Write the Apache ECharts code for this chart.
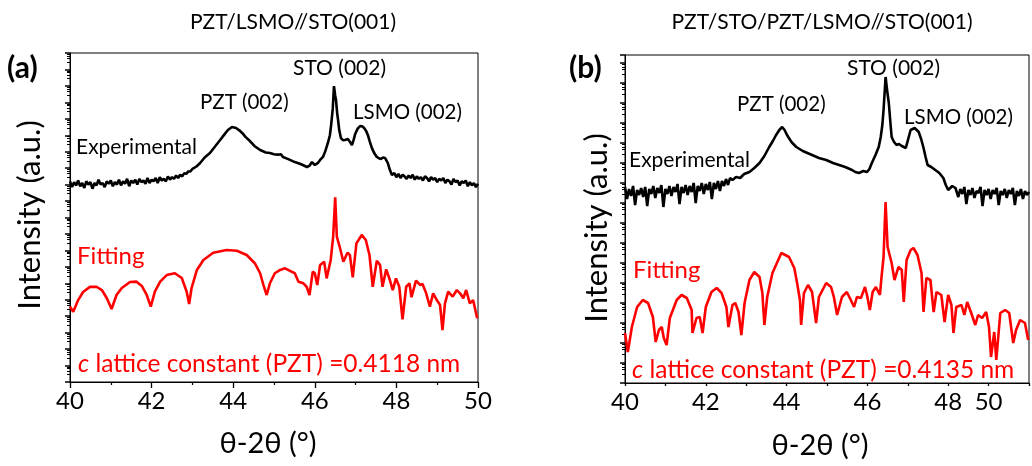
<!DOCTYPE html>
<html><head><meta charset="utf-8">
<script src="https://cdn.jsdelivr.net/npm/echarts@6/dist/echarts.min.js"></script>
<style>html,body{margin:0;padding:0;background:#fff}#c{width:1032px;height:466px}</style>
</head><body><div id="c"></div>
<script>
// values: [2theta (deg), log10 intensity (a.u.)]
const expA = [[40.00,12.20],[40.05,11.85],[40.10,12.15],[40.15,11.95],[40.20,12.25],[40.25,11.90],[40.30,12.10],[40.35,11.80],[40.40,12.20],[40.45,12.00],[40.50,12.15],[40.55,11.75],[40.60,12.10],[40.65,11.95],[40.70,12.30],[40.75,12.00],[40.80,12.10],[40.85,11.85],[40.90,12.20],[40.95,12.05],[41.00,12.25],[41.05,11.90],[41.10,12.15],[41.15,12.00],[41.20,12.30],[41.25,11.95],[41.30,12.20],[41.35,12.05],[41.40,12.35],[41.45,11.90],[41.50,12.25],[41.55,12.10],[41.60,12.30],[41.65,12.00],[41.70,12.35],[41.75,12.15],[41.80,12.25],[41.85,12.05],[41.90,12.40],[41.95,12.10],[42.00,12.30],[42.05,12.20],[42.10,12.40],[42.15,12.10],[42.20,12.45],[42.25,12.25],[42.30,12.35],[42.35,12.20],[42.40,12.50],[42.45,12.30],[42.50,12.45],[42.55,12.35],[42.60,12.55],[42.65,12.40],[42.70,12.60],[42.75,12.50],[42.80,12.70],[42.85,12.65],[42.90,12.80],[42.95,12.80],[43.00,12.95],[43.10,13.10],[43.19,13.31],[43.30,13.65],[43.43,13.92],[43.55,14.30],[43.68,14.71],[43.80,15.10],[43.87,15.32],[43.97,15.50],[44.07,15.44],[44.15,15.30],[44.22,15.14],[44.30,14.90],[44.41,14.65],[44.52,14.35],[44.66,14.10],[44.80,13.95],[44.90,13.92],[45.00,13.85],[45.10,13.82],[45.17,13.85],[45.22,13.68],[45.35,13.55],[45.51,13.37],[45.65,13.25],[45.81,13.07],[45.87,13.15],[45.93,13.37],[46.00,13.19],[46.07,13.30],[46.13,13.50],[46.20,13.68],[46.26,14.05],[46.32,14.53],[46.37,15.00],[46.40,15.62],[46.44,16.60],[46.47,17.99],[46.50,17.40],[46.52,17.14],[46.55,16.30],[46.57,15.93],[46.60,15.30],[46.64,14.83],[46.69,14.70],[46.74,14.71],[46.78,14.80],[46.81,14.77],[46.86,14.60],[46.91,14.41],[46.95,14.70],[46.99,15.08],[47.05,15.40],[47.11,15.56],[47.16,15.55],[47.21,15.44],[47.26,15.25],[47.30,15.02],[47.35,14.60],[47.40,14.22],[47.46,13.90],[47.52,13.68],[47.57,13.60],[47.62,13.56],[47.67,13.65],[47.72,13.62],[47.76,13.45],[47.79,13.31],[47.84,12.90],[47.89,12.58],[47.95,12.70],[48.00,12.45],[48.05,12.65],[48.10,12.40],[48.15,12.60],[48.20,12.50],[48.25,12.35],[48.30,12.55],[48.35,12.40],[48.40,12.60],[48.45,12.30],[48.50,12.50],[48.55,12.35],[48.60,12.45],[48.65,12.25],[48.70,12.50],[48.75,12.40],[48.80,12.20],[48.85,12.45],[48.90,12.30],[48.95,12.40],[49.00,12.15],[49.05,12.35],[49.10,12.25],[49.15,12.40],[49.20,12.10],[49.25,12.30],[49.30,12.20],[49.35,12.00],[49.40,12.35],[49.45,12.15],[49.50,12.25],[49.55,11.95],[49.60,12.20],[49.65,12.10],[49.70,12.25],[49.75,11.90],[49.80,12.15],[49.85,11.95],[49.90,12.10],[49.95,11.85],[50.00,12.05]];

const fitA = [[40.00,4.58],[40.08,4.27],[40.20,4.98],[40.32,5.47],[40.49,5.78],[40.65,5.79],[40.78,5.59],[40.90,5.11],[41.02,4.44],[41.14,5.29],[41.27,5.71],[41.47,6.08],[41.63,6.10],[41.76,5.84],[41.88,5.29],[41.98,4.58],[42.08,5.49],[42.21,6.10],[42.37,6.50],[42.57,6.61],[42.74,6.32],[42.86,5.49],[42.92,4.74],[42.98,5.71],[43.11,6.81],[43.27,7.42],[43.51,7.86],[43.84,8.02],[44.09,7.98],[44.33,7.72],[44.53,7.22],[44.66,6.61],[44.74,5.90],[44.82,5.29],[44.90,6.00],[45.02,6.61],[45.15,6.81],[45.27,6.91],[45.43,6.71],[45.51,6.61],[45.60,6.10],[45.72,6.00],[45.80,5.79],[45.87,5.29],[45.95,6.71],[46.00,6.61],[46.06,5.90],[46.13,7.11],[46.23,7.31],[46.29,6.30],[46.39,7.42],[46.45,8.83],[46.50,11.23],[46.54,8.83],[46.62,8.13],[46.70,7.31],[46.80,7.86],[46.86,7.72],[46.93,6.36],[47.02,8.43],[47.15,8.94],[47.25,8.63],[47.34,7.72],[47.42,5.79],[47.52,7.37],[47.60,7.11],[47.66,5.79],[47.75,6.85],[47.84,6.20],[47.91,5.59],[47.99,6.30],[48.07,5.79],[48.15,3.81],[48.24,5.79],[48.32,6.00],[48.37,5.15],[48.48,6.16],[48.58,5.90],[48.64,5.96],[48.73,5.39],[48.82,4.58],[48.90,5.39],[48.99,4.98],[49.07,4.68],[49.13,3.16],[49.19,4.78],[49.27,5.49],[49.38,5.19],[49.48,5.59],[49.56,5.39],[49.64,5.09],[49.71,5.59],[49.80,4.78],[49.88,4.98],[49.98,3.87]];

const expB = [[40.00,9.80],[40.05,9.20],[40.10,9.70],[40.15,9.35],[40.20,9.85],[40.25,8.90],[40.30,9.65],[40.35,9.40],[40.40,9.75],[40.45,9.30],[40.50,9.80],[40.55,8.85],[40.60,9.70],[40.65,9.45],[40.70,9.85],[40.75,9.25],[40.80,9.75],[40.85,9.50],[40.90,9.90],[40.95,8.80],[41.00,9.70],[41.05,9.45],[41.10,9.85],[41.15,9.35],[41.20,9.80],[41.25,9.55],[41.30,9.95],[41.35,8.95],[41.40,9.80],[41.45,9.50],[41.50,9.90],[41.55,9.40],[41.60,9.85],[41.65,9.55],[41.70,10.00],[41.75,9.00],[41.80,9.85],[41.85,9.60],[41.90,10.00],[41.95,9.45],[42.00,9.95],[42.05,9.65],[42.10,10.05],[42.15,9.20],[42.20,10.00],[42.25,9.70],[42.30,10.10],[42.35,9.60],[42.40,10.10],[42.45,9.85],[42.50,10.20],[42.55,9.90],[42.60,10.25],[42.66,10.15],[42.75,10.30],[42.85,10.25],[42.95,10.45],[43.08,10.55],[43.20,10.75],[43.33,11.00],[43.45,11.35],[43.57,11.80],[43.66,12.10],[43.74,12.40],[43.82,12.65],[43.89,12.80],[43.95,12.65],[44.01,12.40],[44.12,12.05],[44.24,11.80],[44.40,11.60],[44.63,11.40],[44.80,11.25],[44.98,11.15],[45.15,11.00],[45.30,10.90],[45.45,10.80],[45.62,10.65],[45.70,10.55],[45.79,10.50],[45.90,10.60],[45.99,10.55],[46.05,10.70],[46.11,11.00],[46.20,11.40],[46.28,11.80],[46.33,12.30],[46.37,12.90],[46.40,13.65],[46.45,15.30],[46.49,14.60],[46.53,14.00],[46.57,13.00],[46.60,12.30],[46.66,12.05],[46.72,11.90],[46.78,11.95],[46.85,11.85],[46.95,11.75],[47.01,12.20],[47.07,12.65],[47.17,12.75],[47.27,12.55],[47.33,12.20],[47.39,11.75],[47.44,11.30],[47.49,10.90],[47.58,10.80],[47.68,10.65],[47.78,10.50],[47.88,10.25],[47.94,9.90],[48.00,9.65],[48.10,9.85],[48.18,9.75],[48.20,9.75],[48.25,9.30],[48.30,9.70],[48.35,9.45],[48.40,9.80],[48.45,8.95],[48.50,9.65],[48.55,9.40],[48.60,9.75],[48.65,9.25],[48.70,9.60],[48.75,9.50],[48.80,9.80],[48.85,8.85],[48.90,9.65],[48.95,9.40],[49.00,9.70],[49.05,9.20],[49.10,9.65],[49.15,9.45],[49.20,9.75],[49.25,8.90],[49.30,9.60],[49.35,9.40],[49.40,9.70],[49.45,9.25],[49.50,9.65],[49.55,9.45],[49.60,9.75],[49.65,8.90],[49.70,9.60],[49.75,9.35],[49.80,9.70],[49.85,9.20],[49.90,9.60],[49.95,9.40],[50.00,9.55]];

const fitB = [[40.00,2.50],[40.07,1.55],[40.17,2.80],[40.30,3.80],[40.44,4.15],[40.57,4.00],[40.69,3.30],[40.76,2.05],[40.84,2.65],[40.91,2.80],[40.96,2.25],[41.03,1.90],[41.11,3.25],[41.28,4.15],[41.40,4.40],[41.53,4.25],[41.65,3.65],[41.67,2.50],[41.77,3.25],[41.85,3.30],[41.92,2.50],[42.00,3.80],[42.14,4.55],[42.27,4.75],[42.39,4.50],[42.51,3.80],[42.56,2.80],[42.66,3.90],[42.73,4.00],[42.81,3.55],[42.88,2.40],[42.96,4.00],[43.08,5.15],[43.20,5.55],[43.33,5.30],[43.40,4.50],[43.45,2.90],[43.52,4.30],[43.65,5.50],[43.87,6.50],[44.06,6.30],[44.19,5.75],[44.26,5.00],[44.33,4.15],[44.36,2.90],[44.43,4.50],[44.53,4.90],[44.63,4.55],[44.73,3.00],[44.80,4.30],[44.98,5.00],[45.10,4.80],[45.17,4.30],[45.25,3.40],[45.37,4.30],[45.49,4.55],[45.59,4.15],[45.67,3.80],[45.74,4.30],[45.84,4.25],[45.94,4.80],[45.99,4.40],[46.06,3.65],[46.13,4.55],[46.21,4.80],[46.31,4.40],[46.35,5.30],[46.40,6.30],[46.45,9.05],[46.50,6.80],[46.60,6.00],[46.67,5.15],[46.77,5.80],[46.85,5.65],[46.90,4.05],[46.97,6.15],[47.07,6.65],[47.14,6.75],[47.24,6.40],[47.34,5.50],[47.39,3.55],[47.46,5.25],[47.56,5.15],[47.64,3.55],[47.71,4.55],[47.83,4.40],[47.91,3.05],[48.00,4.40],[48.08,3.90],[48.13,2.50],[48.20,3.80],[48.33,3.90],[48.40,3.40],[48.47,4.05],[48.57,3.50],[48.67,2.90],[48.74,3.40],[48.84,3.25],[48.94,3.55],[49.01,2.80],[49.06,1.30],[49.14,2.55],[49.19,1.15],[49.29,3.50],[49.41,3.65],[49.51,3.50],[49.61,2.00],[49.68,2.65],[49.78,3.15],[49.90,3.00],[49.98,2.15]];

const titles = ['PZT/LSMO//STO(001)', 'PZT/STO/PZT/LSMO//STO(001)'];
const tickLabelsA = {40:'40',42:'42',44:'44',46:'46',48:'48',50:'50'};
const tickLabelsB = {40:'40',42:'42',44:'44',46:'46',48:'48',49:'50'};
const latticeA = '0.4118';
const latticeB = '0.4135';

const FONT = 'Lato, "Open Sans", sans-serif';
const toLog = arr => arr.map(p => [p[0], Math.pow(10, p[1])]);

function xAxisFor(grid, labels, interval, minor) {
  return {
    type: 'value', gridIndex: grid, min: 40, max: 50, interval: interval,
    axisLine: {show: true, onZero: false, lineStyle: {color: '#000', width: 1}},
    axisTick: {show: true, inside: false, length: minor ? 3 : 6, lineStyle: {color: '#000', width: 1.3}},
    minorTick: {show: !minor, splitNumber: 2, length: 3, lineStyle: {color: '#000', width: 1.2}},
    splitLine: {show: false},
    axisLabel: {show: true, margin: 7, color: '#000', fontSize: 24, fontFamily: FONT,
      formatter: v => labels[Math.round(v * 100) / 100] || ''}
  };
}
function yAxisFor(grid, maxExp) {
  return {
    type: 'log', gridIndex: grid, logBase: 10, min: 1, max: Math.pow(10, maxExp), interval: 1,
    axisLine: {show: true, onZero: false, lineStyle: {color: '#000', width: 1}},
    axisTick: {show: true, inside: false, length: 5, lineStyle: {color: '#000', width: 1.5}},
    minorTick: {show: true, splitNumber: 5, length: 3, lineStyle: {color: '#000', width: 1}},
    splitLine: {show: false}, minorSplitLine: {show: false},
    axisLabel: {show: false}
  };
}
function txt(x, y, text, size, color, align, opts) {
  return Object.assign({
    type: 'text', x: x, y: y, silent: true,
    style: Object.assign({text: text, fill: color || '#000', font: size + 'px ' + FONT,
      textAlign: align || 'left', textVerticalAlign: 'middle'}, (opts && opts.style) || {})
  }, opts && opts.rotation ? {rotation: opts.rotation} : {});
}
function latticeText(x, y, val) {
  return {
    type: 'text', x: x, y: y, silent: true,
    style: {
      text: '{i|c} lattice constant (PZT) =' + val + ' nm',
      fill: '#ff0000', font: '24.5px ' + FONT, textVerticalAlign: 'middle',
      rich: {i: {fontStyle: 'italic', fontSize: 24.5, fontFamily: FONT, fill: '#ff0000'}}
    }
  };
}

const chart = echarts.init(document.getElementById('c'), null, {renderer: 'canvas'});
chart.setOption({
  animation: false,
  backgroundColor: '#fff',
  grid: [
    {left: 70, right: 554, top: 53, bottom: 84, show: true, borderColor: '#000', borderWidth: 1, backgroundColor: 'transparent'},
    {left: 625, right: 2, top: 55, bottom: 83, show: true, borderColor: '#000', borderWidth: 1, backgroundColor: 'transparent'}
  ],
  xAxis: [
    xAxisFor(0, tickLabelsA, 2, false),
    xAxisFor(1, tickLabelsB, 1, true)
  ],
  yAxis: [yAxisFor(0, 20), yAxisFor(1, 16.4)],
  series: [
    {type: 'line', xAxisIndex: 0, yAxisIndex: 0, data: toLog(expA), showSymbol: false, lineStyle: {color: '#000', width: 2.6}, itemStyle: {color: '#000'}},
    {type: 'line', xAxisIndex: 0, yAxisIndex: 0, data: toLog(fitA), showSymbol: false, lineStyle: {color: '#ff0000', width: 2.6}, itemStyle: {color: '#ff0000'}},
    {type: 'line', xAxisIndex: 1, yAxisIndex: 1, data: toLog(expB), showSymbol: false, lineStyle: {color: '#000', width: 2.6}, itemStyle: {color: '#000'}},
    {type: 'line', xAxisIndex: 1, yAxisIndex: 1, data: toLog(fitB), showSymbol: false, lineStyle: {color: '#ff0000', width: 2.6}, itemStyle: {color: '#ff0000'}}
  ],
  graphic: [
    txt(293, 22, titles[0], 21, '#000', 'center'),
    txt(822, 22, titles[1], 21, '#000', 'center'),
    txt(7, 68, '(a)', 30, '#000', 'left', {style: {font: 'bold 30px ' + FONT}}),
    txt(569, 68, '(b)', 30, '#000', 'left', {style: {font: 'bold 30px ' + FONT}}),
    txt(30, 215, 'Intensity (a.u.)', 31, '#000', 'center', {rotation: Math.PI / 2}),
    txt(597, 228, 'Intensity (a.u.)', 31, '#000', 'center', {rotation: Math.PI / 2}),
    txt(268, 444, 'θ-2θ (°)', 29, '#000', 'center'),
    txt(820, 446, 'θ-2θ (°)', 29, '#000', 'center'),
    txt(200, 102, 'PZT (002)', 20.5, '#000', 'left'),
    txt(293, 68, 'STO (002)', 21, '#000', 'left'),
    txt(353, 112, 'LSMO (002)', 20.5, '#000', 'left'),
    txt(76, 147, 'Experimental', 21, '#000', 'left'),
    txt(77, 256, 'Fitting', 24, '#ff0000', 'left'),
    latticeText(78, 364, latticeA),
    txt(737, 104, 'PZT (002)', 20.5, '#000', 'left'),
    txt(847, 68, 'STO (002)', 21, '#000', 'left'),
    txt(904, 117, 'LSMO (002)', 20.5, '#000', 'left'),
    txt(629, 160, 'Experimental', 21, '#000', 'left'),
    txt(633, 270, 'Fitting', 24, '#ff0000', 'left'),
    latticeText(632, 370, latticeB)
  ]
});
</script></body></html>
